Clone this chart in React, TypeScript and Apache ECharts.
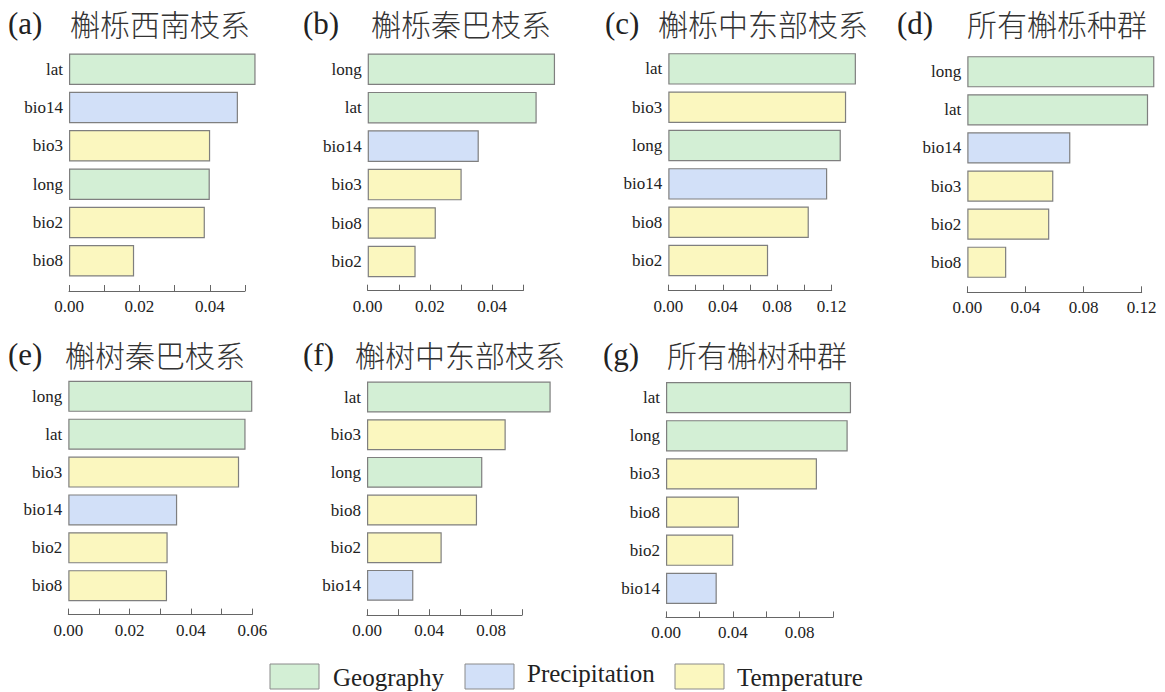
import React, { useEffect, useRef } from "react";
import * as echarts from "echarts";

// ---- data ----
const groupNames = ["Geography", "Precipitation", "Temperature"];
const varGroup: Record<string, string> = {
  lat: "Geography",
  long: "Geography",
  bio14: "Precipitation",
  bio2: "Temperature",
  bio3: "Temperature",
  bio8: "Temperature",
};

const panelTags = ["(a)", "(b)", "(c)", "(d)", "(e)", "(f)", "(g)"];
const panelTitles = [
  "槲栎西南枝系",
  "槲栎秦巴枝系",
  "槲栎中东部枝系",
  "所有槲栎种群",
  "槲树秦巴枝系",
  "槲树中东部枝系",
  "所有槲树种群",
];

const catsA = ["lat", "bio14", "bio3", "long", "bio2", "bio8"];
const valsA = [0.053, 0.048, 0.0401, 0.04, 0.0386, 0.0185];
const catsB = ["long", "lat", "bio14", "bio3", "bio8", "bio2"];
const valsB = [0.0602, 0.0543, 0.0357, 0.0302, 0.0219, 0.0154];
const catsC = ["lat", "bio3", "long", "bio14", "bio8", "bio2"];
const valsC = [0.1378, 0.1306, 0.1267, 0.1167, 0.1032, 0.0733];
const catsD = ["long", "lat", "bio14", "bio3", "bio2", "bio8"];
const valsD = [0.1287, 0.1244, 0.0709, 0.0592, 0.0564, 0.0268];
const catsE = ["long", "lat", "bio3", "bio14", "bio2", "bio8"];
const valsE = [0.06, 0.0578, 0.0557, 0.0355, 0.0324, 0.0322];
const catsF = ["lat", "bio3", "long", "bio8", "bio2", "bio14"];
const valsF = [0.1185, 0.0895, 0.0744, 0.071, 0.0482, 0.0299];
const catsG = ["lat", "long", "bio3", "bio8", "bio2", "bio14"];
const valsG = [0.1108, 0.1088, 0.0904, 0.0437, 0.0403, 0.0304];

const panelCats = [catsA, catsB, catsC, catsD, catsE, catsF, catsG];
const panelVals = [valsA, valsB, valsC, valsD, valsE, valsF, valsG];

// axis scales: max, tick interval, label step
const axisMax = [0.05, 0.05, 0.12, 0.12, 0.06, 0.1, 0.1];
const axisTick = [0.01, 0.01, 0.02, 0.04, 0.01, 0.02, 0.02];
const axisLabelStep = [0.02, 0.02, 0.04, 0.04, 0.02, 0.04, 0.04];

// ---- layout & style ----
const gridLayout = [
  { left: 69, top: 50, width: 176, height: 230, offset: 11 },
  { left: 367.7, top: 50, width: 155.6, height: 230.7, offset: 10 },
  { left: 668.3, top: 49.7, width: 163.4, height: 230, offset: 11 },
  { left: 967.3, top: 52.7, width: 174.4, height: 228.6, offset: 11 },
  { left: 68.3, top: 377.4, width: 184, height: 227.2, offset: 10 },
  { left: 367, top: 378.2, width: 155, height: 226, offset: 11 },
  { left: 666, top: 378.6, width: 167, height: 228.8, offset: 10 },
];
const titleLayout = [
  { tx: 8, cx: 70, y: 23 },
  { tx: 303, cx: 371, y: 23 },
  { tx: 605, cx: 658, y: 23 },
  { tx: 897, cx: 967, y: 23 },
  { tx: 8, cx: 65, y: 354 },
  { tx: 303, cx: 355, y: 354 },
  { tx: 603, cx: 667, y: 354 },
];
const legendLayout = [
  { bx: 270, tx: 333, ty: 677 },
  { bx: 465, tx: 527, ty: 673 },
  { bx: 675, tx: 737, ty: 677 },
];

const groupColors: Record<string, string> = {
  Geography: "#d3efd5",
  Precipitation: "#d2e0f8",
  Temperature: "#fbf7bf",
};
const SERIF = "Liberation Serif";
const CJK = "Noto Sans CJK SC";

export default function App() {
  const ref = useRef<HTMLDivElement>(null);
  useEffect(() => {
    document.body.style.margin = "0";
    const chart = echarts.init(ref.current!, undefined, { renderer: "svg" });

    const grid = gridLayout.map((g) => ({
      left: g.left,
      top: g.top,
      width: g.width,
      height: g.height,
      containLabel: false,
    }));

    const xAxis = gridLayout.map((g, i) => ({
      type: "value",
      gridIndex: i,
      min: 0,
      max: axisMax[i],
      interval: axisTick[i],
      offset: g.offset,
      splitLine: { show: false },
      axisLine: { show: true, lineStyle: { color: "#666", width: 1 } },
      axisTick: { show: true, inside: true, length: 6, lineStyle: { color: "#666" } },
      axisLabel: {
        margin: 7,
        fontFamily: SERIF,
        fontSize: 17,
        color: "#222",
        showMaxLabel: true,
        formatter: (v: number) => {
          const r = v / axisLabelStep[i];
          return Math.abs(r - Math.round(r)) < 1e-6 ? v.toFixed(2) : "";
        },
      },
    }));

    const yAxis = panelCats.map((cats, i) => ({
      type: "category",
      gridIndex: i,
      data: cats,
      inverse: true,
      axisLine: { show: false },
      axisTick: { show: false },
      axisLabel: { margin: 6, fontFamily: SERIF, fontSize: 17, color: "#222" },
    }));

    const series = panelVals.map((vals, i) => ({
      type: "bar",
      xAxisIndex: i,
      yAxisIndex: i,
      clip: false,
      barCategoryGap: "18%",
      data: vals.map((v, k) => ({
        value: v,
        itemStyle: {
          color: groupColors[varGroup[panelCats[i][k]]],
          borderColor: "#7f7f7f",
          borderWidth: 1.2,
        },
      })),
    }));

    const graphic: any[] = [];
    titleLayout.forEach((t, i) => {
      graphic.push({
        type: "text",
        x: t.tx,
        y: t.y,
        style: {
          text: panelTags[i],
          fontFamily: SERIF,
          fontSize: 31,
          fill: "#222",
          verticalAlign: "middle",
        },
      });
      graphic.push({
        type: "text",
        x: t.cx,
        y: t.y,
        style: {
          text: panelTitles[i],
          fontFamily: CJK,
          fontSize: 30,
          fontWeight: 300,
          fill: "#333",
          verticalAlign: "middle",
        },
      });
    });
    legendLayout.forEach((l, i) => {
      graphic.push({
        type: "rect",
        shape: { x: l.bx, y: 664, width: 49, height: 25 },
        style: { fill: groupColors[groupNames[i]], stroke: "#8a8a8a", lineWidth: 1 },
      });
      graphic.push({
        type: "text",
        x: l.tx,
        y: l.ty,
        style: {
          text: groupNames[i],
          fontFamily: SERIF,
          fontSize: 25,
          fill: "#222",
          verticalAlign: "middle",
        },
      });
    });

    chart.setOption({
      animation: false,
      backgroundColor: "#fff",
      grid,
      xAxis,
      yAxis,
      series,
      graphic,
    } as any);
    return () => chart.dispose();
  }, []);
  return <div ref={ref} style={{ width: 1165, height: 692 }} />;
}
